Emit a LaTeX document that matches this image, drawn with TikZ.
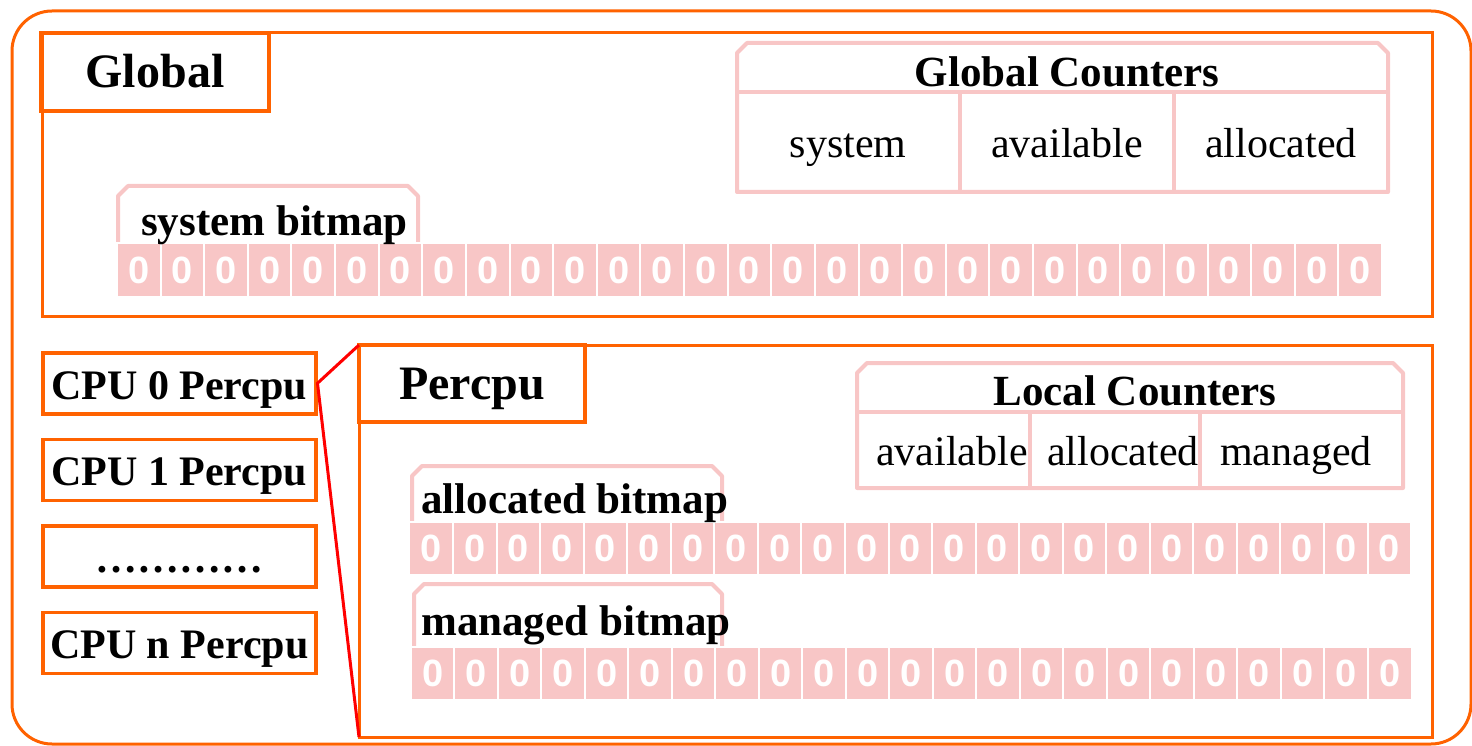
\documentclass[tikz,border=0pt]{standalone}
\usepackage{fontspec}
\setmainfont{Liberation Serif}
\newfontfamily\bitfont{Liberation Sans}
\usetikzlibrary{positioning}
\definecolor{orangeline}{RGB}{255,98,0}
\definecolor{pinkcell}{RGB}{248,198,198}

\begin{document}
\begin{tikzpicture}[x=1pt,y=-1pt,node distance=22pt,
    frame/.style={draw=orangeline,line width=3pt,inner sep=0pt,outer sep=0pt,anchor=north west},
    title/.style={frame,line width=4pt,font=\fontsize{48}{52}\selectfont\bfseries,text height=36pt,text depth=4pt},
    cpu/.style={draw=orangeline,line width=3.5pt,minimum width=273pt,minimum height=61pt,inner sep=0pt,
        font=\fontsize{42}{46}\selectfont\bfseries,text height=36pt,text depth=4pt},
    tabline/.style={draw=pinkcell,line width=4pt,fill=white,line join=round},
    bit/.style={fill=pinkcell,draw=white,line width=2pt,minimum width=43.6pt,minimum height=54pt,
        inner sep=0pt,text=white,font=\fontsize{38}{38}\selectfont\bitfont\bfseries},
    pinkline/.style={draw=pinkcell,line width=4pt},
    bold/.style={font=\fontsize{43}{46}\selectfont\bfseries,inner sep=0pt},
    plain/.style={font=\fontsize{42}{46}\selectfont,inner sep=0pt}]
    \useasboundingbox (0,0) rectangle (1472,746);

    % outer frame
    \node[frame,rounded corners=40pt,minimum width=1459pt,minimum height=733pt] (outer) at (12,11) {};

    % global part
    \node[frame,minimum width=1390pt,minimum height=283pt] (global) at (42,33) {};
    \node[title,minimum width=228pt,minimum height=78pt] (globaltitle) at (41,33) {Global};

    \draw[tabline] (737,192) -- (737,53) -- (747,43) -- (1378,43) -- (1388,53) -- (1388,192) -- cycle;
    \draw[pinkline] (737,92) -- (1388,92) (960,92) -- (960,192) (1174,92) -- (1174,192);
    \node[bold,anchor=base] (gcounttitle) at (1067,87) {Global Counters};
    \node[plain,anchor=base] (gsystem) at (848,158) {system};
    \node[plain,anchor=base] (gavail) at (1067,158) {available};
    \node[plain,anchor=base] (galloc) at (1281,158) {allocated};

    \draw[tabline] (118,250) -- (118,196) -- (128,186) -- (408,186) -- (418,196) -- (418,250);
    \foreach \i in {0,...,28}
        \node[bit] (sys\i) at ({117+43.62*(\i+0.5)},270) {0};
    \node[bold,anchor=base west] (syslabel) at (141,235) {system bitmap};

    % percpu part
    \node[frame,minimum width=1073pt,minimum height=392pt] (percpu) at (359,345) {};
    \node[title,minimum width=226pt,minimum height=77pt] (percputitle) at (359,345) {Percpu};

    \draw[tabline] (857,488) -- (857,373) -- (867,363) -- (1393,363) -- (1403,373) -- (1403,488) -- cycle;
    \draw[pinkline] (857,412) -- (1403,412) (1030,412) -- (1030,488) (1200,412) -- (1200,488);
    \node[bold,anchor=base] (lcounttitle) at (1135,405) {Local Counters};
    \node[plain,anchor=base] (lavail) at (952,465) {available};
    \node[plain,anchor=base] (lalloc) at (1123,465) {allocated};
    \node[plain,anchor=base] (lmanaged) at (1296,465) {managed};

    \draw[tabline] (412,526) -- (412,476) -- (422,466) -- (712,466) -- (722,476) -- (722,526);
    \foreach \i in {0,...,22}
        \node[bit,minimum height=53pt] (alloc\i) at ({409.5+43.55*(\i+0.5)},548) {0};
    \node[bold,anchor=base west] (alloclabel) at (421,513) {allocated bitmap};

    \draw[tabline] (414,650) -- (414,594) -- (424,584) -- (712,584) -- (722,594) -- (722,650);
    \foreach \i in {0,...,22}
        \node[bit,minimum height=53pt] (mng\i) at ({411+43.5*(\i+0.5)},673) {0};
    \node[bold,anchor=base west] (mnglabel) at (421,635) {managed bitmap};

    % cpu list
    \node[cpu,anchor=north west] (cpu0) at (41,351) {CPU 0 Percpu};
    \node[cpu,below=of cpu0] (cpu1) {CPU 1 Percpu};
    \node[cpu,below=of cpu1] (cpudots) {\ldots\ldots\ldots\ldots};
    \node[cpu,below=of cpudots] (cpun) {CPU n Percpu};

    \draw[red,line width=3pt] (percpu.north west) -- (cpu0.east) -- (percpu.south west);
\end{tikzpicture}
\end{document}
